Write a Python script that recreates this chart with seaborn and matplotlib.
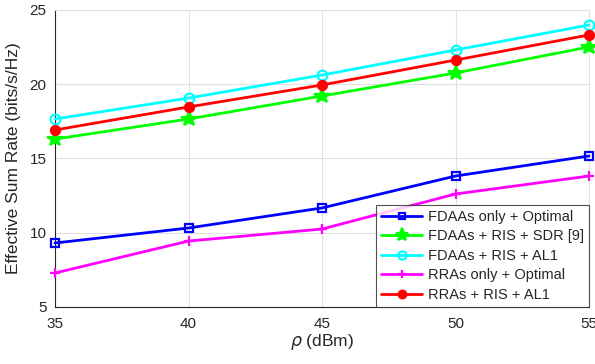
import pandas as pd
import matplotlib
matplotlib.use("Agg")
import matplotlib.pyplot as plt
import seaborn as sns

# values
rho = [35, 40, 45, 50, 55]
fdaa_opt = [9.31, 10.32, 11.67, 13.82, 15.17]
fdaa_sdr = [16.31, 17.66, 19.21, 20.76, 22.51]
fdaa_al1 = [17.66, 19.07, 20.62, 22.31, 23.99]
rra_opt = [7.29, 9.44, 10.25, 12.61, 13.82]
rra_al1 = [16.92, 18.47, 19.95, 21.63, 23.32]

labels = ["FDAAs only + Optimal", "FDAAs + RIS + SDR [9]", "FDAAs + RIS + AL1",
          "RRAs only + Optimal", "RRAs + RIS + AL1"]
series = [fdaa_opt, fdaa_sdr, fdaa_al1, rra_opt, rra_al1]
colors = ["#0000ff", "#00ff00", "#00ffff", "#ff00ff", "#ff0000"]
markers = ["s", "*", "o", "+", "o"]
msizes = [5.5, 11.5, 7, 7, 6.5]
fills = ["none", None, "none", None, None]

rows = []
for lab, vals in zip(labels, series):
    for x, v in zip(rho, vals):
        rows.append({"rho": x, "rate": v, "scheme": lab})
df = pd.DataFrame(rows)

sns.set_style("white")
plt.rcParams["font.family"] = ["Liberation Sans", "DejaVu Sans"]

fig = plt.figure(figsize=(5.95, 3.64), dpi=100)
ax = fig.add_axes([55 / 595, 57 / 364, 534 / 595, 297 / 364])

for i, lab in enumerate(labels):
    kw = dict(marker=markers[i], markersize=msizes[i], markeredgewidth=1.6,
              markeredgecolor=colors[i], color=colors[i], linewidth=2,
              label=lab, clip_on=False, zorder=3)
    if fills[i] == "none":
        kw["markerfacecolor"] = "none"
    else:
        kw["markerfacecolor"] = colors[i]
    sns.lineplot(data=df[df["scheme"] == lab], x="rho", y="rate", ax=ax,
                 estimator=None, **kw)

ax.set_xlim(35, 55)
ax.set_ylim(5, 25)
ax.set_xticks(rho)
ax.set_yticks([5, 10, 15, 20, 25])
ax.grid(True, color="#e0e0e0", linewidth=0.8)
ax.tick_params(labelsize=11, colors="#262626", direction="in", length=4)
ax.tick_params(axis="x", pad=7)
ax.tick_params(axis="y", pad=6)
for s in ["left", "bottom"]:
    ax.spines[s].set_color("#262626")
for s in ["top", "right"]:
    ax.spines[s].set_color("#e0e0e0")
ax.set_xlabel(r"$\rho$ (dBm)", fontsize=12.5, color="#262626", labelpad=1)
ax.set_ylabel("Effective Sum Rate (bits/s/Hz)", fontsize=12.5, color="#262626",
              labelpad=6)

leg = ax.legend(loc="lower right", fontsize=10.5, frameon=True, fancybox=False,
                borderpad=0.35, labelspacing=0.38, handlelength=2.8,
                handletextpad=0.4, borderaxespad=0, markerscale=0.85)
leg.get_frame().set_edgecolor("#262626")
leg.get_frame().set_linewidth(0.8)
leg.set_zorder(5)

fig.savefig("out.png", dpi=100)
